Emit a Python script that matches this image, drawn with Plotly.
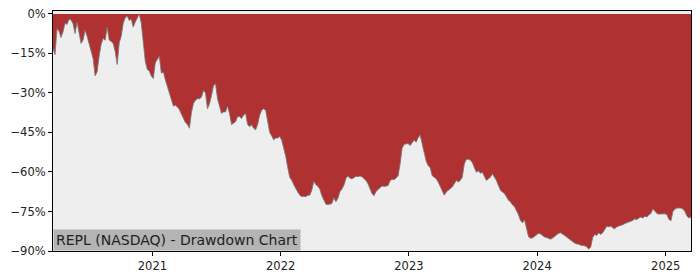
import pandas as pd
import plotly.graph_objects as go

start_date = "2020-03-24"
end_date = "2025-03-14"

drawdown = [
    -13.0, -15.5, -5.6, -6.5, -9.0, -6.8, -3.5, -4.0, -2.0, -2.3,
    -3.7, -7.4, -3.1, -7.4, -11.2, -9.9, -6.2, -8.5, -11.5, -13.5,
    -17.0, -23.5, -22.0, -16.0, -11.5, -9.3, -10.0, -5.0, -9.9, -10.5,
    -11.2, -14.3, -19.2, -11.0, -8.5, -3.5, -1.5, -0.8, -2.5, -1.9,
    -5.0, -3.1, -1.2, 0.0, -3.5, -11.8, -18.0, -21.1, -21.7, -23.6,
    -24.5, -18.5, -17.4, -16.1, -22.5, -22.0, -25.0, -27.5, -30.0, -32.5,
    -35.0, -34.7, -35.3, -36.4, -38.0, -39.5, -41.2, -42.0, -43.4, -37.5,
    -34.0, -32.8, -32.2, -32.2, -31.6, -29.1, -30.0, -36.0, -34.1, -31.0,
    -27.3, -26.5, -32.2, -35.0, -37.8, -37.2, -37.2, -35.0, -37.8, -42.0,
    -41.5, -40.9, -39.0, -39.0, -39.7, -38.4, -37.8, -42.0, -42.8, -42.1,
    -43.4, -44.0, -42.0, -38.5, -36.6, -36.0, -36.6, -40.9, -45.0, -46.3,
    -47.8, -47.1, -47.1, -46.5, -48.0, -51.0, -54.0, -58.3, -62.0, -63.2,
    -65.1, -66.3, -67.6, -68.8, -69.4, -69.2, -69.4, -68.8, -68.8, -66.9,
    -63.5, -64.8, -65.4, -66.5, -69.0, -70.7, -72.2, -72.4, -72.2, -72.0,
    -69.8, -71.3, -70.0, -67.5, -66.5, -65.0, -62.5, -61.5, -62.4, -62.6,
    -62.2, -61.6, -61.8, -61.5, -61.8, -62.6, -63.2, -64.5, -66.3, -68.2,
    -69.0, -67.4, -66.7, -65.8, -65.3, -65.5, -65.3, -65.2, -63.3, -62.8,
    -63.0, -62.4, -61.5, -57.0, -51.0, -49.5, -49.4, -49.2, -50.0, -48.8,
    -47.9, -48.7, -47.0, -46.0, -49.6, -52.7, -55.8, -57.6, -58.3, -61.4,
    -62.0, -62.6, -63.8, -65.7, -67.6, -68.8, -67.6, -66.9, -66.3, -65.7,
    -64.5, -63.2, -63.8, -63.2, -62.0, -57.0, -55.2, -55.2, -55.5, -56.4,
    -58.3, -60.1, -59.5, -60.5, -60.1, -61.4, -63.2, -62.6, -62.0, -60.7,
    -62.0, -63.2, -65.1, -66.9, -67.6, -68.2, -69.4, -70.7, -71.3, -72.5,
    -73.1, -74.4, -76.2, -78.4, -79.3, -78.1, -82.0, -84.5, -85.2, -85.0,
    -84.5, -83.9, -83.3, -83.5, -84.1, -84.7, -84.9, -85.3, -85.5, -85.1,
    -84.5, -83.9, -83.3, -83.1, -83.5, -84.1, -84.7, -85.3, -86.0, -86.6,
    -87.0, -87.3, -87.4, -87.8, -87.8, -88.0, -88.4, -89.3, -88.5, -84.9,
    -83.7, -84.1, -83.1, -83.7, -83.1, -81.8, -80.6, -80.8, -80.6, -81.2,
    -81.6, -80.8, -80.6, -80.3, -80.0, -79.6, -79.3, -79.1, -78.7, -78.4,
    -77.8, -78.1, -77.5, -77.1, -77.5, -76.8, -77.1, -76.2, -75.8, -74.1,
    -74.8, -75.8, -76.0, -75.9, -76.0, -75.9, -76.2, -78.0, -78.5, -75.0,
    -74.1, -73.7, -73.7, -73.7, -74.1, -75.0, -76.8, -77.5, -77.1,
]

year_ticks = ["2021-01-01", "2022-01-01", "2023-01-01", "2024-01-01", "2025-01-01"]
year_labels = ["2021", "2022", "2023", "2024", "2025"]
y_ticks = [0, -15, -30, -45, -60, -75, -90]
y_labels = ["0%", "\u221215%", "\u221230%", "\u221245%", "\u221260%", "\u221275%", "\u221290%"]
title_text = "REPL (NASDAQ) - Drawdown Chart"

dates = pd.date_range(start_date, end_date, periods=len(drawdown))
zeros = [0.0] * len(drawdown)

fig = go.Figure()
fig.add_trace(go.Scatter(x=dates, y=zeros, mode="lines",
                         line=dict(width=0, color="rgba(0,0,0,0)"),
                         showlegend=False, hoverinfo="skip"))
fig.add_trace(go.Scatter(x=dates, y=drawdown, mode="lines", fill="tonexty",
                         fillcolor="#B03131",
                         line=dict(width=1, color="rgba(120,120,120,0.85)"),
                         showlegend=False))

font = dict(family="DejaVu Sans", size=11.5, color="#222222")
fig.update_layout(
    width=700, height=280,
    margin=dict(l=53, r=9, t=7, b=28),
    paper_bgcolor="white",
    plot_bgcolor="#EEEEEE",
    font=font,
    xaxis=dict(
        range=[dates[0], dates[-1]],
        tickvals=year_ticks, ticktext=year_labels,
        showgrid=False, zeroline=False,
        showline=True, linecolor="black", linewidth=1, mirror=True,
        ticks="outside", ticklen=4, tickcolor="black",
    ),
    yaxis=dict(
        range=[-90, 1.1],
        tickvals=y_ticks, ticktext=y_labels,
        showgrid=False, zeroline=False,
        showline=True, linecolor="black", linewidth=1, mirror=True,
        ticks="outside", ticklen=4, tickcolor="black",
    ),
    annotations=[dict(
        text=title_text, xref="paper", yref="paper", x=0, y=0,
        xanchor="left", yanchor="bottom", showarrow=False,
        bgcolor="#B4B4B4", borderpad=2,
        font=dict(family="DejaVu Sans", size=14, color="#222222"),
    )],
)

fig.write_html("out.html")
